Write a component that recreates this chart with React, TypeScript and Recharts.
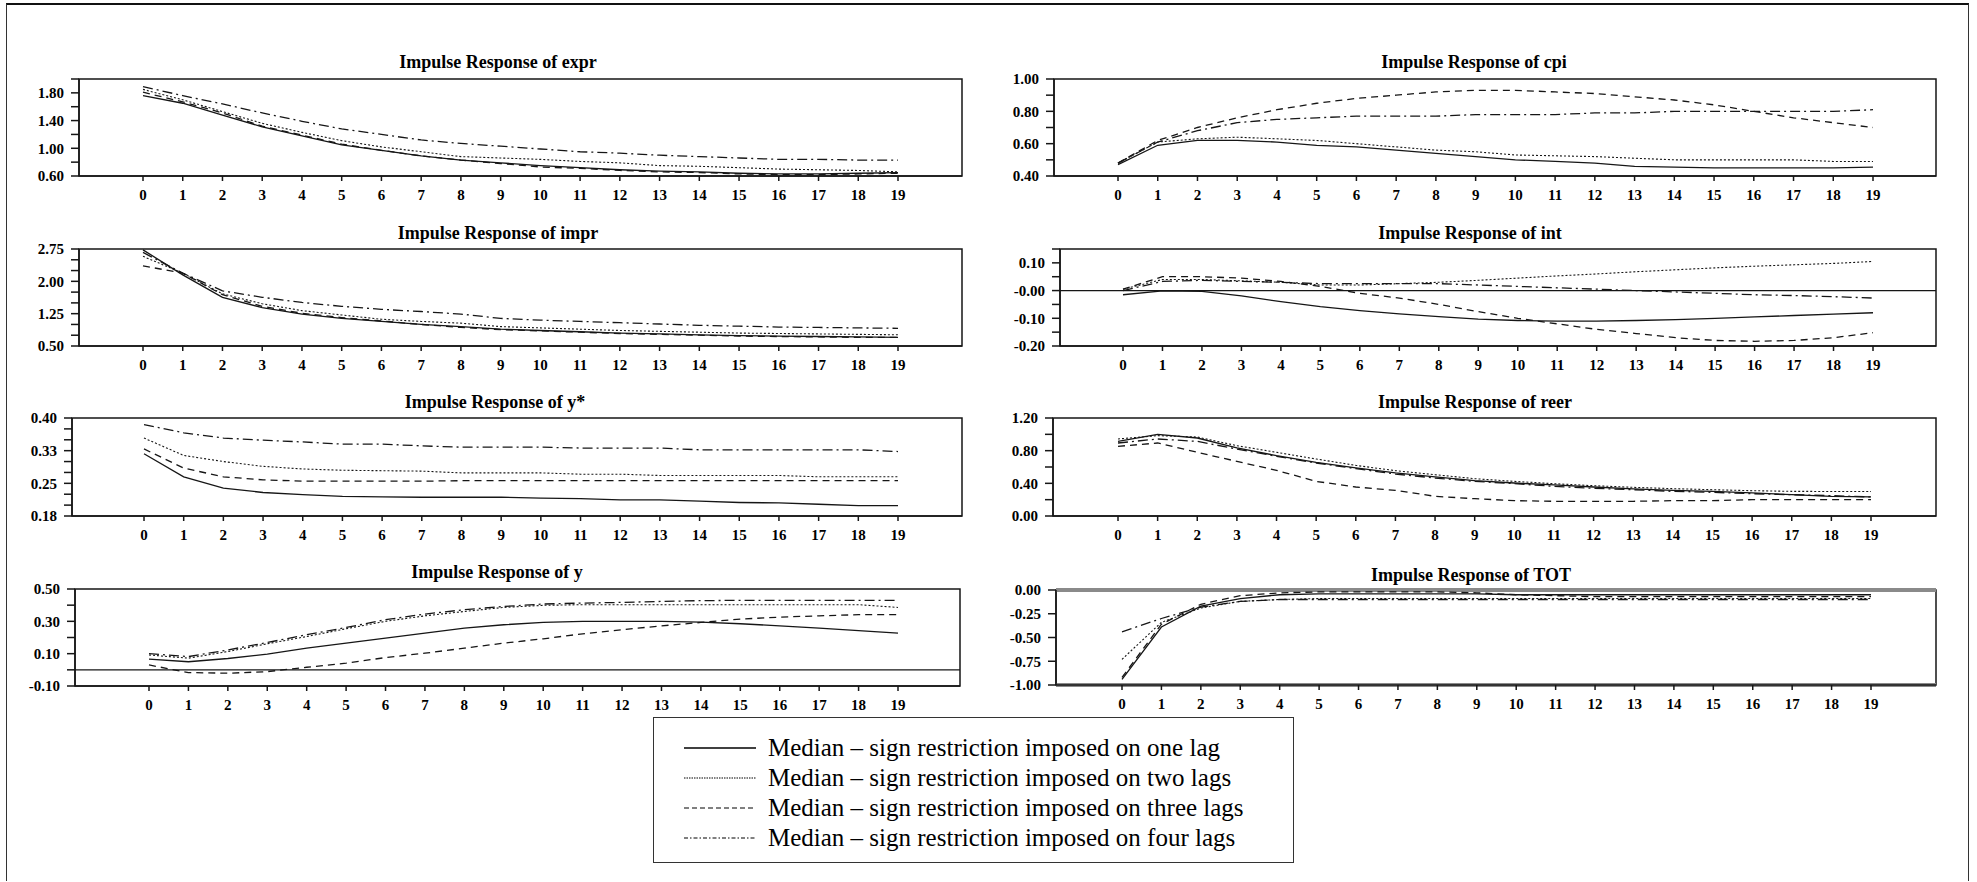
import React from "react";
import { LineChart, Line, XAxis, YAxis, ReferenceArea, ReferenceLine } from "recharts";

const periods = [0, 1, 2, 3, 4, 5, 6, 7, 8, 9, 10, 11, 12, 13, 14, 15, 16, 17, 18, 19];

const seriesNames = [
  "Median – sign restriction imposed on one lag",
  "Median – sign restriction imposed on two lags",
  "Median – sign restriction imposed on three lags",
  "Median – sign restriction imposed on four lags",
];

// expr
const exprOne = [1.76, 1.65, 1.48, 1.31, 1.18, 1.05, 0.97, 0.89, 0.83, 0.79, 0.75, 0.72, 0.69, 0.67, 0.66, 0.64, 0.63, 0.63, 0.64, 0.65];
const exprTwo = [1.85, 1.70, 1.53, 1.36, 1.23, 1.11, 1.02, 0.95, 0.88, 0.86, 0.84, 0.81, 0.79, 0.75, 0.74, 0.72, 0.70, 0.69, 0.68, 0.66];
const exprThree = [1.81, 1.67, 1.51, 1.32, 1.19, 1.06, 0.97, 0.89, 0.83, 0.78, 0.73, 0.71, 0.68, 0.66, 0.65, 0.63, 0.62, 0.62, 0.63, 0.64];
const exprFour = [1.89, 1.76, 1.64, 1.51, 1.39, 1.28, 1.20, 1.12, 1.07, 1.03, 0.99, 0.95, 0.93, 0.90, 0.88, 0.86, 0.84, 0.84, 0.83, 0.83];

// cpi
const cpiOne = [0.47, 0.59, 0.62, 0.62, 0.61, 0.59, 0.58, 0.56, 0.54, 0.52, 0.50, 0.49, 0.48, 0.46, 0.455, 0.45, 0.45, 0.45, 0.45, 0.455];
const cpiTwo = [0.48, 0.61, 0.63, 0.64, 0.63, 0.62, 0.60, 0.58, 0.56, 0.55, 0.53, 0.525, 0.52, 0.51, 0.50, 0.50, 0.50, 0.50, 0.49, 0.49];
const cpiThree = [0.48, 0.62, 0.70, 0.76, 0.81, 0.85, 0.88, 0.90, 0.92, 0.93, 0.93, 0.92, 0.91, 0.89, 0.87, 0.84, 0.80, 0.76, 0.73, 0.70];
const cpiFour = [0.48, 0.61, 0.68, 0.73, 0.75, 0.76, 0.77, 0.77, 0.77, 0.78, 0.78, 0.78, 0.79, 0.79, 0.80, 0.80, 0.80, 0.80, 0.80, 0.81];

// impr
const imprOne = [2.73, 2.15, 1.63, 1.39, 1.24, 1.14, 1.07, 1.00, 0.95, 0.89, 0.86, 0.83, 0.80, 0.78, 0.76, 0.74, 0.73, 0.72, 0.71, 0.70];
const imprTwo = [2.58, 2.19, 1.71, 1.48, 1.32, 1.22, 1.12, 1.07, 1.03, 0.95, 0.92, 0.89, 0.86, 0.84, 0.82, 0.80, 0.79, 0.78, 0.77, 0.76];
const imprThree = [2.36, 2.19, 1.69, 1.42, 1.26, 1.16, 1.08, 1.00, 0.93, 0.88, 0.85, 0.82, 0.79, 0.77, 0.75, 0.73, 0.72, 0.71, 0.70, 0.70];
const imprFour = [2.67, 2.19, 1.78, 1.63, 1.51, 1.42, 1.35, 1.30, 1.24, 1.14, 1.10, 1.07, 1.04, 1.01, 0.98, 0.96, 0.94, 0.93, 0.92, 0.91];

// int
const intOne = [-0.015, -0.001, -0.003, -0.019, -0.04, -0.058, -0.072, -0.084, -0.094, -0.103, -0.108, -0.11, -0.11, -0.108, -0.105, -0.1, -0.095, -0.09, -0.085, -0.08];
const intTwo = [0.005, 0.04, 0.04, 0.035, 0.03, 0.02, 0.02, 0.025, 0.03, 0.037, 0.045, 0.053, 0.06, 0.068, 0.075, 0.082, 0.088, 0.093, 0.098, 0.105];
const intThree = [0.005, 0.05, 0.05, 0.045, 0.033, 0.015, -0.01, -0.027, -0.05, -0.076, -0.1, -0.12, -0.14, -0.155, -0.17, -0.18, -0.183, -0.18, -0.17, -0.152];
const intFour = [0.0, 0.033, 0.037, 0.033, 0.03, 0.025, 0.025, 0.025, 0.025, 0.02, 0.015, 0.01, 0.005, 0.0, -0.005, -0.01, -0.015, -0.018, -0.022, -0.027];

// y*
const ystarOne = [0.318, 0.265, 0.239, 0.229, 0.224, 0.22, 0.219, 0.218, 0.218, 0.218, 0.216, 0.215, 0.212, 0.212, 0.209, 0.206, 0.205, 0.202, 0.199, 0.199];
const ystarTwo = [0.354, 0.314, 0.3, 0.289, 0.283, 0.28, 0.279, 0.278, 0.274, 0.274, 0.274, 0.271, 0.271, 0.268, 0.268, 0.268, 0.268, 0.265, 0.265, 0.265];
const ystarThree = [0.329, 0.285, 0.265, 0.258, 0.255, 0.255, 0.255, 0.255, 0.256, 0.256, 0.256, 0.256, 0.256, 0.256, 0.256, 0.256, 0.256, 0.256, 0.256, 0.256];
const ystarFour = [0.385, 0.366, 0.354, 0.349, 0.345, 0.34, 0.34, 0.336, 0.333, 0.333, 0.333, 0.331, 0.331, 0.331, 0.327, 0.327, 0.327, 0.327, 0.327, 0.323];

// reer
const reerOne = [0.914, 1.0, 0.955, 0.833, 0.739, 0.657, 0.588, 0.527, 0.478, 0.433, 0.404, 0.38, 0.355, 0.331, 0.314, 0.302, 0.282, 0.261, 0.241, 0.233];
const reerTwo = [0.943, 0.984, 0.967, 0.861, 0.78, 0.698, 0.62, 0.555, 0.506, 0.457, 0.424, 0.396, 0.371, 0.351, 0.335, 0.322, 0.31, 0.302, 0.3, 0.3];
const reerThree = [0.853, 0.894, 0.78, 0.669, 0.559, 0.424, 0.355, 0.314, 0.241, 0.212, 0.188, 0.18, 0.18, 0.18, 0.188, 0.188, 0.2, 0.2, 0.2, 0.2];
const reerFour = [0.894, 0.943, 0.914, 0.82, 0.731, 0.649, 0.58, 0.514, 0.465, 0.424, 0.396, 0.363, 0.339, 0.322, 0.302, 0.29, 0.273, 0.261, 0.249, 0.233];

// y
const yOne = [0.066, 0.05, 0.07, 0.097, 0.134, 0.165, 0.196, 0.227, 0.258, 0.279, 0.293, 0.3, 0.3, 0.3, 0.295, 0.285, 0.272, 0.258, 0.243, 0.227];
const yTwo = [0.092, 0.072, 0.113, 0.161, 0.206, 0.254, 0.3, 0.334, 0.361, 0.386, 0.399, 0.403, 0.403, 0.403, 0.403, 0.403, 0.403, 0.403, 0.403, 0.386];
const yThree = [0.03, -0.017, -0.021, -0.011, 0.016, 0.041, 0.076, 0.103, 0.134, 0.165, 0.192, 0.223, 0.248, 0.272, 0.293, 0.314, 0.326, 0.334, 0.341, 0.341];
const yFour = [0.1, 0.082, 0.123, 0.169, 0.217, 0.262, 0.31, 0.345, 0.372, 0.392, 0.407, 0.413, 0.417, 0.423, 0.428, 0.43, 0.43, 0.43, 0.43, 0.43];

// TOT
const totOne = [-0.94, -0.39, -0.17, -0.09, -0.05, -0.04, -0.04, -0.04, -0.04, -0.04, -0.05, -0.05, -0.05, -0.05, -0.05, -0.05, -0.05, -0.05, -0.05, -0.05];
const totTwo = [-0.73, -0.34, -0.19, -0.12, -0.1, -0.09, -0.09, -0.09, -0.09, -0.09, -0.09, -0.09, -0.09, -0.09, -0.09, -0.09, -0.09, -0.09, -0.09, -0.09];
const totThree = [-0.92, -0.36, -0.15, -0.06, -0.03, -0.02, -0.02, -0.02, -0.02, -0.03, -0.05, -0.06, -0.07, -0.07, -0.07, -0.07, -0.07, -0.07, -0.07, -0.07];
const totFour = [-0.44, -0.3, -0.18, -0.12, -0.1, -0.1, -0.1, -0.1, -0.1, -0.1, -0.1, -0.1, -0.1, -0.1, -0.1, -0.1, -0.1, -0.1, -0.1, -0.1];

const dashes = ["", "2 2", "7 5", "10 4 2 4"];
const ink = "#161616";
const serif = "'Liberation Serif', 'Times New Roman', serif";

type PanelProps = {
  title: string;
  titleX: number;
  titleY: number;
  box: [number, number, number, number];
  tick0: number;
  tick19: number;
  yDomain: [number, number];
  yTicks: number[];
  yLabels: string[];
  values: number[][];
  zero?: boolean;
  heavy?: boolean;
};

function Panel(p: PanelProps) {
  const [l, t, r, b] = p.box;
  const ML = 80;
  const MB = 36;
  const MT = 14;
  const MR = 4;
  const sp = (p.tick19 - p.tick0) / 19;
  const xMin = -(p.tick0 - l) / sp;
  const xMax = 19 + (r - p.tick19) / sp;
  const data = periods.map((x, i) => ({
    x,
    one: p.values[0][i],
    two: p.values[1][i],
    three: p.values[2][i],
    four: p.values[3][i],
  }));
  const fmt = (v: number) => {
    const k = p.yTicks.findIndex((tv) => Math.abs(tv - v) < 1e-9);
    return k >= 0 ? p.yLabels[k] : "";
  };
  const tickStyle = { fontSize: 15, fontWeight: 700, fill: "#000", fontFamily: serif };
  return (
    <>
      <div
        style={{
          position: "absolute",
          left: p.titleX - 200,
          top: p.titleY - 11,
          width: 400,
          textAlign: "center",
          fontFamily: serif,
          fontWeight: 700,
          fontSize: 18,
          lineHeight: "22px",
          color: "#000",
        }}
      >
        {p.title}
      </div>
      <div style={{ position: "absolute", left: l - ML, top: t - MT }}>
        <LineChart
          width={r - l + ML + MR}
          height={b - t + MT + MB}
          data={data}
          margin={{ top: MT, right: MR, bottom: 0, left: 0 }}
        >
          <XAxis
            type="number"
            dataKey="x"
            domain={[xMin, xMax]}
            ticks={periods}
            interval={0}
            allowDataOverflow
            height={MB}
            tickSize={5}
            tickMargin={8}
            stroke={ink}
            strokeWidth={1.5}
            tick={tickStyle}
          />
          <YAxis
            type="number"
            domain={p.yDomain}
            ticks={p.yTicks}
            interval={0}
            allowDataOverflow
            width={ML}
            tickSize={8}
            tickMargin={7}
            stroke={ink}
            strokeWidth={1.5}
            tick={tickStyle}
            tickFormatter={fmt}
          />
          <ReferenceArea
            x1={xMin}
            x2={xMax}
            y1={p.yDomain[0]}
            y2={p.yDomain[1]}
            fill="none"
            fillOpacity={0}
            stroke={ink}
            strokeWidth={1.5}
            ifOverflow="visible"
          />
          {p.heavy && (
            <ReferenceLine y={p.yDomain[1]} stroke="#8a8a8a" strokeWidth={4} ifOverflow="visible" />
          )}
          {p.heavy && (
            <ReferenceLine y={p.yDomain[0]} stroke="#8a8a8a" strokeWidth={4} ifOverflow="visible" />
          )}
          {p.zero && <ReferenceLine y={0} stroke={ink} strokeWidth={1.3} />}
          {["one", "two", "three", "four"].map((k, i) => (
            <Line
              key={k}
              type="linear"
              dataKey={k}
              stroke={ink}
              strokeWidth={i === 1 ? 1.1 : 1.3}
              strokeDasharray={dashes[i] || undefined}
              dot={false}
              activeDot={false}
              isAnimationActive={false}
            />
          ))}
        </LineChart>
      </div>
    </>
  );
}

function LegendBox() {
  const rows = [747, 777, 807, 837];
  return (
    <div
      style={{
        position: "absolute",
        left: 653,
        top: 717,
        width: 641,
        height: 146,
        border: "1.5px solid #333",
        boxSizing: "border-box",
      }}
    >
      {seriesNames.map((name, i) => (
        <div
          key={name}
          style={{ position: "absolute", left: 0, top: rows[i] - 717 - 15, height: 30, width: 640 }}
        >
          <svg
            width={80}
            height={30}
            style={{ position: "absolute", left: 28, top: 0 }}
          >
            <line
              x1={2}
              x2={74}
              y1={15}
              y2={15}
              stroke="#000"
              strokeWidth={i === 0 ? 1.3 : 1}
              strokeDasharray={i === 1 ? "1.5 1" : i === 2 ? "5 3" : i === 3 ? "4 2 1.5 2" : undefined}
            />
          </svg>
          <div
            style={{
              position: "absolute",
              left: 114,
              top: 0,
              fontFamily: serif,
              fontSize: 25,
              lineHeight: "30px",
              color: "#000",
              whiteSpace: "nowrap",
            }}
          >
            {name}
          </div>
        </div>
      ))}
    </div>
  );
}

export default function App() {
  return (
    <div
      style={{
        position: "absolute",
        left: 0,
        top: 0,
        width: 1977,
        height: 882,
        background: "#fff",
        overflow: "hidden",
      }}
    >
      <div
        style={{
          position: "absolute",
          left: 6,
          top: 3,
          width: 1963,
          height: 878,
          borderTop: "2px solid #111",
          borderLeft: "1.5px solid #333",
          borderRight: "1.5px solid #333",
          boxSizing: "border-box",
        }}
      />
      <Panel
        title="Impulse Response of expr"
        titleX={498}
        titleY={62}
        box={[79, 79, 962, 176]}
        tick0={143}
        tick19={898}
        yDomain={[0.6, 2.0]}
        yTicks={[0.6, 0.8, 1.0, 1.2, 1.4, 1.6, 1.8, 2.0]}
        yLabels={["0.60", "", "1.00", "", "1.40", "", "1.80", ""]}
        values={[exprOne, exprTwo, exprThree, exprFour]}
      />
      <Panel
        title="Impulse Response of cpi"
        titleX={1474}
        titleY={62}
        box={[1054, 79, 1936, 176]}
        tick0={1118}
        tick19={1873}
        yDomain={[0.4, 1.0]}
        yTicks={[0.4, 0.5, 0.6, 0.7, 0.8, 0.9, 1.0]}
        yLabels={["0.40", "", "0.60", "", "0.80", "", "1.00"]}
        values={[cpiOne, cpiTwo, cpiThree, cpiFour]}
      />
      <Panel
        title="Impulse Response of impr"
        titleX={498}
        titleY={233}
        box={[79, 249, 962, 346]}
        tick0={143}
        tick19={898}
        yDomain={[0.5, 2.75]}
        yTicks={[0.5, 0.75, 1.0, 1.25, 1.5, 1.75, 2.0, 2.25, 2.5, 2.75]}
        yLabels={["0.50", "", "", "1.25", "", "", "2.00", "", "", "2.75"]}
        values={[imprOne, imprTwo, imprThree, imprFour]}
      />
      <Panel
        title="Impulse Response of int"
        titleX={1470}
        titleY={233}
        box={[1060, 249, 1936, 346]}
        tick0={1123}
        tick19={1873}
        yDomain={[-0.2, 0.15]}
        yTicks={[-0.2, -0.15, -0.1, -0.05, 0, 0.05, 0.1, 0.15]}
        yLabels={["-0.20", "", "-0.10", "", "-0.00", "", "0.10", ""]}
        values={[intOne, intTwo, intThree, intFour]}
        zero
      />
      <Panel
        title="Impulse Response of y*"
        titleX={495}
        titleY={402}
        box={[72, 418, 962, 516]}
        tick0={144}
        tick19={898}
        yDomain={[0.175, 0.4]}
        yTicks={[0.175, 0.2, 0.225, 0.25, 0.275, 0.3, 0.325, 0.35, 0.375, 0.4]}
        yLabels={["0.18", "", "", "0.25", "", "", "0.33", "", "", "0.40"]}
        values={[ystarOne, ystarTwo, ystarThree, ystarFour]}
      />
      <Panel
        title="Impulse Response of reer"
        titleX={1475}
        titleY={402}
        box={[1053, 418, 1936, 516]}
        tick0={1118}
        tick19={1871}
        yDomain={[0, 1.2]}
        yTicks={[0, 0.2, 0.4, 0.6, 0.8, 1.0, 1.2]}
        yLabels={["0.00", "", "0.40", "", "0.80", "", "1.20"]}
        values={[reerOne, reerTwo, reerThree, reerFour]}
      />
      <Panel
        title="Impulse Response of y"
        titleX={497}
        titleY={572}
        box={[75, 589, 960, 686]}
        tick0={149}
        tick19={898}
        yDomain={[-0.1, 0.5]}
        yTicks={[-0.1, 0, 0.1, 0.2, 0.3, 0.4, 0.5]}
        yLabels={["-0.10", "", "0.10", "", "0.30", "", "0.50"]}
        values={[yOne, yTwo, yThree, yFour]}
        zero
      />
      <Panel
        title="Impulse Response of TOT"
        titleX={1471}
        titleY={575}
        box={[1056, 590, 1936, 685]}
        tick0={1122}
        tick19={1871}
        yDomain={[-1, 0]}
        yTicks={[-1, -0.75, -0.5, -0.25, 0]}
        yLabels={["-1.00", "-0.75", "-0.50", "-0.25", "0.00"]}
        values={[totOne, totTwo, totThree, totFour]}
        heavy
      />
      <LegendBox />
    </div>
  );
}
